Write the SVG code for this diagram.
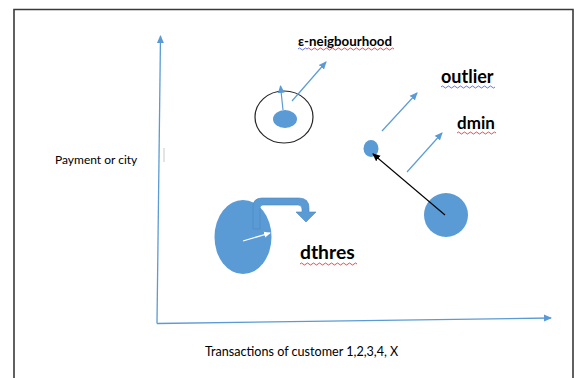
<svg xmlns="http://www.w3.org/2000/svg" width="578" height="378" viewBox="0 0 578 378">
  <style>
    .lbl { font-family: Lato, "Liberation Sans", sans-serif; fill: #000; }
    .term { font-weight: bold; }
    .ax { stroke: #5B9BD5; stroke-width: 1.3; fill: none; }
    .dot { fill: #5B9BD5; }
    .conn { stroke: #5B9BD5; stroke-width: 1.2; fill: none; }
    .squiggle-red { stroke: #E0202A; stroke-width: 0.8; fill: none; }
    .squiggle-blue { stroke: #4050E0; stroke-width: 0.8; fill: none; }
  </style>
  <defs>
    <marker id="headBlue" markerWidth="8" markerHeight="8" refX="7" refY="4" orient="auto" markerUnits="userSpaceOnUse">
      <path d="M0,0.5 L8,4 L0,7.5 Z" fill="#5B9BD5"/>
    </marker>
    <marker id="headBlack" markerWidth="8" markerHeight="8" refX="7" refY="4" orient="auto" markerUnits="userSpaceOnUse">
      <path d="M0,0.5 L8,4 L0,7.5 Z" fill="#000"/>
    </marker>
    <marker id="headWhite" markerWidth="7" markerHeight="7" refX="6" refY="3.5" orient="auto" markerUnits="userSpaceOnUse">
      <path d="M0,0.5 L7,3.5 L0,6.5 Z" fill="#fff"/>
    </marker>
  </defs>

  <rect width="578" height="378" fill="#fff"/>
  <!-- page frame, open at the bottom -->
  <path d="M14,378 V9.5 H573 V378" fill="none" stroke="#3a3a3a" stroke-width="1.6"/>

  <!-- axes -->
  <g id="axes">
    <line class="ax" x1="157" y1="323.5" x2="160.5" y2="36" marker-end="url(#headBlue)"/>
    <line class="ax" x1="157" y1="323.5" x2="551" y2="318" marker-end="url(#headBlue)"/>
    <line x1="164" y1="148" x2="164" y2="162" stroke="#c8c8c8" stroke-width="1"/>
  </g>

  <g id="y-label">
    <text class="lbl" x="55" y="164" font-size="12">Payment or city</text>
  </g>
  <g id="x-label">
    <text class="lbl" x="205" y="356" font-size="12.6">Transactions of customer 1,2,3,4, X</text>
  </g>

  <!-- point with its ε-neighbourhood -->
  <g id="neighbourhood">
    <ellipse cx="284" cy="117" rx="29" ry="26" fill="none" stroke="#262626" stroke-width="1.2"/>
    <ellipse class="dot" cx="285" cy="119" rx="12" ry="9"/>
  </g>
  <g id="eps-label">
    <text class="lbl term" x="298" y="46" font-size="13.3">ε-neigbourhood</text>
    <path class="squiggle-blue" d="M298,49 q1.5,-2 3,0 t3,0 t3,0"/>
    <path class="squiggle-red" d="M307,49 q1.5,-2 3,0 t3,0 t3,0 t3,0 t3,0 t3,0 t3,0 t3,0 t3,0 t3,0 t3,0 t3,0 t3,0 t3,0 t3,0 t3,0 t3,0 t3,0 t3,0 t3,0 t3,0 t3,0 t3,0 t3,0 t3,0 t3,0 t3,0 t3,0 t3,0"/>
  </g>

  <!-- outlier and its nearest dense point -->
  <g id="outlier">
    <ellipse class="dot" cx="371" cy="148.5" rx="7.5" ry="8.5"/>
  </g>
  <g id="dense-point">
    <circle class="dot" cx="446" cy="215" r="22"/>
  </g>
  <g id="outlier-label">
    <text class="lbl term" x="441" y="83" font-size="18">outlier</text>
    <path class="squiggle-blue" d="M441,87 q1.5,-2 3,0 t3,0 t3,0 t3,0 t3,0 t3,0 t3,0 t3,0 t3,0 t3,0 t3,0 t3,0 t3,0 t3,0 t3,0 t3,0 t3,0 t3,0"/>
  </g>
  <g id="dmin-label">
    <text class="lbl term" x="457" y="129" font-size="17">dmin</text>
    <path class="squiggle-red" d="M457,133 q1.5,-2 3,0 t3,0 t3,0 t3,0 t3,0 t3,0 t3,0 t3,0 t3,0 t3,0 t3,0 t3,0 t3,0"/>
  </g>

  <!-- dense cluster with threshold radius -->
  <g id="cluster">
    <ellipse class="dot" cx="243" cy="237" rx="28.5" ry="37"/>
    <path class="dot" d="M253,229 V207 Q253,198 262,198 H299 Q309,198 309,208 V212 H316 L306,222 L296,212 H302 V209 Q302,205 298,205 H263 Q260,205 260,208 V229 Z" stroke="#4a86bd" stroke-width="0.6"/>
    <line x1="243" y1="241" x2="270" y2="233" stroke="#fff" stroke-width="1.3" marker-end="url(#headWhite)"/>
  </g>
  <g id="dthres-label">
    <text class="lbl term" x="300" y="259" font-size="19.3">dthres</text>
    <path class="squiggle-red" d="M300,264 q1.5,-2 3,0 t3,0 t3,0 t3,0 t3,0 t3,0 t3,0 t3,0 t3,0 t3,0 t3,0 t3,0 t3,0 t3,0 t3,0 t3,0 t3,0 t3,0 t3,0"/>
  </g>

  <!-- connectors -->
  <g id="connectors">
    <line class="conn" x1="283" y1="110" x2="280.5" y2="86" marker-end="url(#headBlue)"/>
    <line class="conn" x1="292" y1="101" x2="326" y2="62" marker-end="url(#headBlue)"/>
    <line class="conn" x1="382" y1="131" x2="417" y2="93" marker-end="url(#headBlue)"/>
    <line class="conn" x1="407" y1="172" x2="442" y2="133" marker-end="url(#headBlue)"/>
    <line x1="445" y1="215" x2="373" y2="154" stroke="#000" stroke-width="1.1" marker-end="url(#headBlack)"/>
  </g>
</svg>
